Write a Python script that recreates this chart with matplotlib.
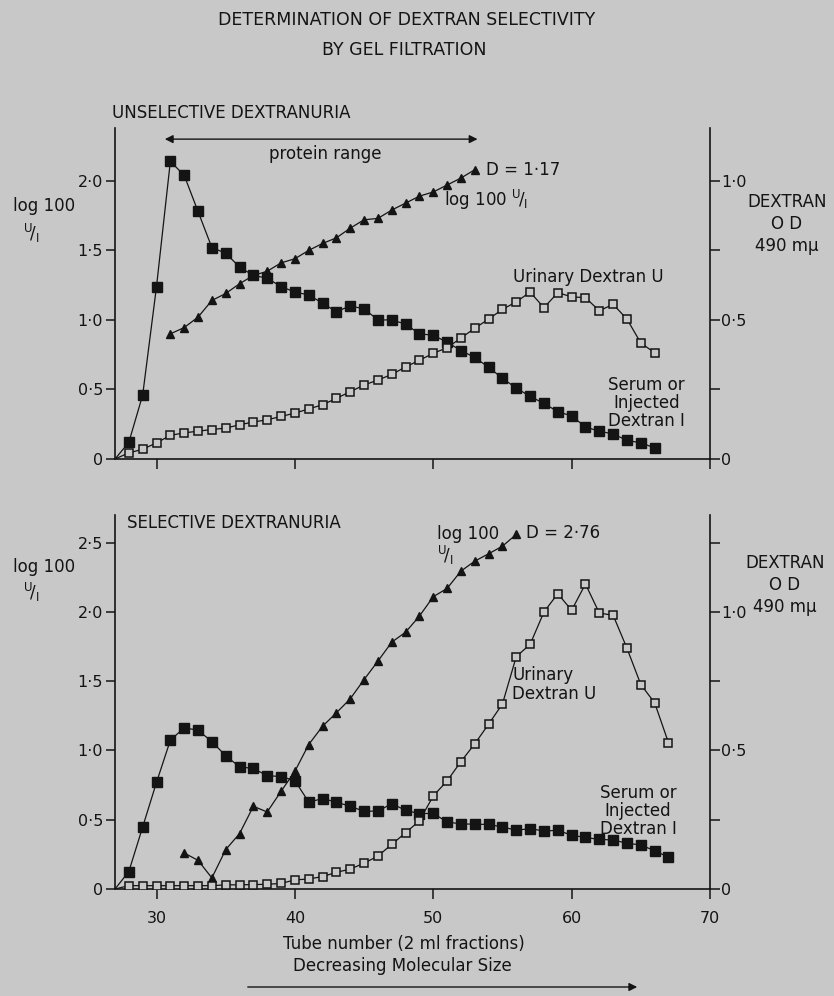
import numpy as np
import matplotlib
matplotlib.use('Agg')
import matplotlib.pyplot as plt
from matplotlib.patches import FancyArrowPatch
from matplotlib.ticker import FixedLocator, FixedFormatter

# ── Data: gel-filtration fractions ──────────────────────────────────────────
# upper panel - unselective dextranuria
TUBE_A = np.arange(27, 67)
SERUM_A = [0.0, 0.06, 0.23, 0.62, 1.07, 1.02, 0.89, 0.76, 0.74, 0.69,
           0.66, 0.65, 0.62, 0.60, 0.59, 0.56, 0.53, 0.55, 0.54, 0.50,
           0.50, 0.485, 0.45, 0.445, 0.42, 0.39, 0.365, 0.33, 0.29, 0.255,
           0.225, 0.20, 0.17, 0.155, 0.115, 0.10, 0.09, 0.067, 0.058, 0.04]
URINE_A = [0.0, 0.022, 0.035, 0.058, 0.085, 0.094, 0.10, 0.106, 0.111, 0.123,
           0.133, 0.141, 0.153, 0.165, 0.18, 0.195, 0.218, 0.242, 0.266, 0.284,
           0.304, 0.331, 0.355, 0.38, 0.40, 0.435, 0.47, 0.503, 0.538, 0.565,
           0.60, 0.544, 0.598, 0.583, 0.58, 0.533, 0.556, 0.503, 0.417, 0.382]
TUBE_RATIO_A = np.arange(31, 54)
RATIO_A = [0.90, 0.945, 1.02, 1.14, 1.19, 1.26, 1.32, 1.35, 1.41, 1.44,
           1.50, 1.55, 1.59, 1.66, 1.72, 1.73, 1.79, 1.84, 1.89, 1.92,
           1.97, 2.02, 2.08]

# lower panel - selective dextranuria
TUBE_B = np.arange(27, 68)
SERUM_B = [0.0, 0.063, 0.224, 0.385, 0.537, 0.582, 0.573, 0.532, 0.481, 0.441,
           0.435, 0.409, 0.406, 0.391, 0.314, 0.326, 0.314, 0.298, 0.281, 0.281,
           0.308, 0.284, 0.272, 0.273, 0.242, 0.235, 0.234, 0.233, 0.224, 0.212,
           0.218, 0.209, 0.212, 0.194, 0.186, 0.179, 0.177, 0.165, 0.159, 0.138,
           0.115]
URINE_B = [0.0, 0.012, 0.012, 0.012, 0.012, 0.012, 0.012, 0.012, 0.015, 0.015,
           0.016, 0.017, 0.02, 0.033, 0.036, 0.045, 0.06, 0.072, 0.093, 0.119,
           0.161, 0.203, 0.246, 0.336, 0.39, 0.46, 0.524, 0.595, 0.668, 0.839,
           0.883, 1.0, 1.066, 1.006, 1.101, 0.996, 0.988, 0.869, 0.738, 0.672,
           0.528]
TUBE_RATIO_B = np.arange(32, 57)
RATIO_B = [0.26, 0.207, 0.08, 0.284, 0.40, 0.597, 0.556, 0.705, 0.85, 1.043,
           1.175, 1.272, 1.373, 1.512, 1.645, 1.782, 1.854, 1.97, 2.11, 2.17,
           2.295, 2.367, 2.42, 2.475, 2.56]

D_A = '1·17'
D_B = '2·76'

BG = '#c8c8c8'
INK = '#141414'
W, H = 834, 996
plt.rcParams['font.family'] = 'DejaVu Sans'
plt.rcParams['text.color'] = INK
FS = 12        # annotation text
FS_TICK = 11.5
UI = r'$^{\mathregular{U}}\!/_{\mathregular{I}}$'


def fx(x):
    return x / W


def fy(y):
    return 1 - y / H


def dot(v):
    return '0' if v == 0 else f'{v:.1f}'.replace('.', '·')


def style_axes(ax, ax2, left_ticks, right_major, right_minor, show_x):
    for a in (ax, ax2):
        a.set_facecolor('none')
        a.spines['top'].set_visible(False)
        for s in a.spines.values():
            s.set_color(INK)
            s.set_linewidth(1.2)
    ax.spines['right'].set_visible(False)
    ax2.spines['left'].set_visible(False)
    ax2.spines['bottom'].set_visible(False)
    ax.set_xlim(27, 70)
    ax.set_xticks([30, 40, 50, 60, 70])
    if show_x:
        ax.set_xticklabels(['30', '40', '50', '60', '70'], fontsize=FS_TICK)
    else:
        ax.set_xticklabels([])
    ax.yaxis.set_major_locator(FixedLocator(left_ticks))
    ax.yaxis.set_major_formatter(FixedFormatter([dot(v) for v in left_ticks]))
    ax2.yaxis.set_major_locator(FixedLocator(right_major))
    ax2.yaxis.set_major_formatter(FixedFormatter([dot(v) for v in right_major]))
    ax2.yaxis.set_minor_locator(FixedLocator(right_minor))
    ax.tick_params(axis='x', direction='out', length=7.5, width=1.1,
                   colors=INK, labelsize=FS_TICK, pad=8)
    ax.tick_params(axis='y', direction='out', length=6.5, width=1.1,
                   colors=INK, labelsize=FS_TICK, pad=2)
    ax2.tick_params(axis='y', which='both', direction='out', length=7, width=1.1,
                    colors=INK, labelsize=FS_TICK, pad=1)


def draw_series(ax, ax2, tube, serum, urine, tr, ratio):
    ax.plot(tr, ratio, '-', color=INK, lw=0.9, marker='^', ms=5.5,
            mfc=INK, mec=INK, zorder=3)
    ax2.plot(tube, serum, '-', color=INK, lw=0.9, marker='s', ms=6.5,
             mfc=INK, mec=INK, markevery=slice(1, None), zorder=4)
    ax2.plot(tube, urine, '-', color=INK, lw=0.9, marker='s', ms=5.5,
             mfc=BG, mec=INK, mew=1.1, markevery=slice(1, None), zorder=5)


fig = plt.figure(figsize=(W / 100, H / 100), dpi=100, facecolor=BG)

fig.text(fx(407), fy(20), 'DETERMINATION OF DEXTRAN SELECTIVITY',
         ha='center', va='center', fontsize=12.5)
fig.text(fx(404), fy(50), 'BY GEL FILTRATION', ha='center', va='center', fontsize=12.5)

# ── upper panel ─────────────────────────────────────────────────────────────
ax1 = fig.add_axes([fx(115), fy(459), fx(710) - fx(115), (459 - 128) / H])
ax1b = ax1.twinx()
ax1.set_ylim(0, 2.38)
ax1b.set_ylim(0, 1.19)
style_axes(ax1, ax1b, [0, 0.5, 1.0, 1.5, 2.0], [0, 0.5, 1.0], [0.25, 0.75], False)
draw_series(ax1, ax1b, TUBE_A, SERUM_A, URINE_A, TUBE_RATIO_A, RATIO_A)

fig.text(fx(112), fy(113), 'UNSELECTIVE DEXTRANURIA', ha='left', va='center', fontsize=FS)
ax1.annotate('', xy=(53.2, 2.30), xytext=(30.6, 2.30),
             arrowprops=dict(arrowstyle='<|-|>', color=INK, lw=1.0,
                             mutation_scale=12, shrinkA=0, shrinkB=0))
ax1.text(42.2, 2.19, 'protein range', ha='center', va='center', fontsize=FS)
ax1.annotate(f'D = {D_A}', (TUBE_RATIO_A[-1], RATIO_A[-1]), textcoords='offset points',
             xytext=(8, 0), ha='left', va='center', fontsize=FS)
ax1.text(50.8, 1.86, 'log 100 ' + UI, ha='left', va='center', fontsize=FS)
ax1b.text(61.2, 0.655, 'Urinary Dextran U', ha='center', va='center', fontsize=FS)
ax1b.text(65.4, 0.20, 'Serum or\nInjected\nDextran I', ha='center', va='center',
          fontsize=FS, linespacing=1.0)

fig.text(fx(13), fy(206), 'log 100', ha='left', va='center', fontsize=FS)
fig.text(fx(23), fy(233), UI, ha='left', va='center', fontsize=FS)
fig.text(fx(787), fy(224), 'DEXTRAN\nO D\n490 mμ', ha='center', va='center',
         fontsize=FS, linespacing=1.3)

# ── lower panel ─────────────────────────────────────────────────────────────
ax2 = fig.add_axes([fx(115), fy(889), fx(710) - fx(115), (889 - 515) / H])
ax2b = ax2.twinx()
ax2.set_ylim(0, 2.70)
ax2b.set_ylim(0, 1.35)
style_axes(ax2, ax2b, [0, 0.5, 1.0, 1.5, 2.0, 2.5], [0, 0.5, 1.0],
           [0.25, 0.75, 1.25], True)
draw_series(ax2, ax2b, TUBE_B, SERUM_B, URINE_B, TUBE_RATIO_B, RATIO_B)

ax2.text(27.9, 2.645, 'SELECTIVE DEXTRANURIA', ha='left', va='center', fontsize=FS)
ax2.annotate(f'D = {D_B}', (TUBE_RATIO_B[-1], RATIO_B[-1]), textcoords='offset points',
             xytext=(7, 1), ha='left', va='center', fontsize=FS)
ax2.text(50.25, 2.56, 'log 100', ha='left', va='center', fontsize=FS)
ax2.text(50.25, 2.41, UI, ha='left', va='center', fontsize=FS)
ax2b.text(55.7, 0.738, 'Urinary\nDextran U', ha='left', va='center', fontsize=FS,
          linespacing=1.05)
ax2b.text(64.8, 0.283, 'Serum or\nInjected\nDextran I', ha='center', va='center',
          fontsize=FS, linespacing=1.0)

fig.text(fx(13), fy(567), 'log 100', ha='left', va='center', fontsize=FS)
fig.text(fx(23), fy(592), UI, ha='left', va='center', fontsize=FS)
fig.text(fx(785), fy(585), 'DEXTRAN\nO D\n490 mμ', ha='center', va='center',
         fontsize=FS, linespacing=1.3)

fig.text(fx(404), fy(944), 'Tube number (2 ml fractions)', ha='center', va='center',
         fontsize=FS)
fig.text(fx(402), fy(966), 'Decreasing Molecular Size', ha='center', va='center',
         fontsize=FS)
fig.add_artist(FancyArrowPatch(
    (fx(245), fy(987)), (fx(640), fy(987)), transform=fig.transFigure,
    arrowstyle='-|>', mutation_scale=12, color=INK, lw=1.0))

fig.savefig('out.png', dpi=100, facecolor=BG)
